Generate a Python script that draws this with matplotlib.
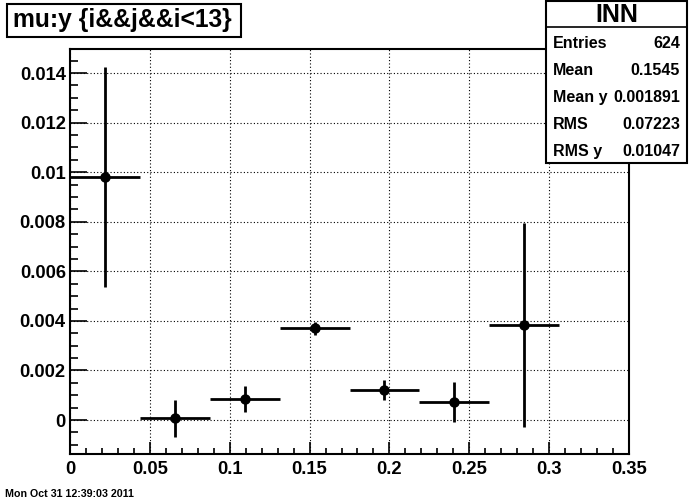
import numpy as np
import matplotlib
matplotlib.use("Agg")
import matplotlib.pyplot as plt
from matplotlib.patches import Rectangle
from matplotlib.ticker import MultipleLocator, FuncFormatter

# profile histogram: 8 bins in mu, last bin empty
nbins = 8
xlo, xhi = 0.0, 0.35
y_mean = [0.0098, 0.00007, 0.00085, 0.0037, 0.00121, 0.00073, 0.00383]
y_err = [0.00443, 0.00075, 0.00052, 0.00025, 0.0004, 0.0008, 0.0041]

title = "mu:y {i&&j&&i<13}"
stats_name = "INN"
stats_labels = ["Entries", "Mean", "Mean y", "RMS", "RMS y"]
stats_values = ["624", "0.1545", "0.001891", "0.07223", "0.01047"]
date_str = "Mon Oct 31 12:39:03 2011"

W, H = 698, 503
bold = ["Liberation Sans", "DejaVu Sans"]


def fx(px):
    return px / W


def fy(py):
    return 1 - py / H


edges = np.linspace(xlo, xhi, nbins + 1)
centres = 0.5 * (edges[:-1] + edges[1:])
halfw = 0.5 * (edges[1] - edges[0])
n = len(y_mean)

fig = plt.figure(figsize=(W / 100, H / 100), dpi=100)
ax = fig.add_axes([fx(70), fy(454), fx(629) - fx(70), fy(49) - fy(454)])

ax.errorbar(centres[:n], y_mean, xerr=halfw, yerr=y_err, fmt="o", color="black",
            ms=6.5, elinewidth=2, capsize=0, zorder=3)

ax.set_xlim(xlo, xhi)
ax.set_ylim(-0.00137, 0.01497)

ax.xaxis.set_major_locator(MultipleLocator(0.05))
ax.xaxis.set_minor_locator(MultipleLocator(0.01))
ax.yaxis.set_major_locator(MultipleLocator(0.002))
ax.yaxis.set_minor_locator(MultipleLocator(0.0005))
fmt = FuncFormatter(lambda v, p: "%g" % round(v, 6))
ax.xaxis.set_major_formatter(fmt)
ax.yaxis.set_major_formatter(fmt)

ax.tick_params(axis="y", which="major", direction="in", length=12, width=1.2, pad=3)
ax.tick_params(axis="y", which="minor", direction="in", length=6, width=1.2)
ax.tick_params(axis="x", which="major", direction="in", length=8.5, width=1.2, pad=5)
ax.tick_params(axis="x", which="minor", direction="in", length=4.3, width=1.2)

for lab in ax.get_yticklabels() + ax.get_xticklabels():
    lab.set_fontfamily(bold)
    lab.set_fontweight("bold")
    lab.set_fontsize(13.2)

ax.grid(True, which="major", color="black", linestyle=(0, (1, 2)), linewidth=0.8)
for sp in ax.spines.values():
    sp.set_linewidth(1.5)

# title box
fig.add_artist(Rectangle((fx(7), fy(37)), fx(241) - fx(7), fy(4) - fy(37),
                         transform=fig.transFigure, facecolor="white",
                         edgecolor="black", lw=1.5, zorder=5))
fig.text(fx(122), fy(20.5), title, ha="center", va="center", fontsize=17.7,
         fontweight="bold", family=bold, zorder=6)

# stats box
fig.add_artist(Rectangle((fx(546), fy(163)), fx(687) - fx(546), fy(1) - fy(163),
                         transform=fig.transFigure, facecolor="white",
                         edgecolor="black", lw=1.5, zorder=5))
fig.add_artist(plt.Line2D([fx(546), fx(687)], [fy(27), fy(27)],
                          transform=fig.transFigure, color="black", lw=1.2, zorder=6))
fig.text(fx(616.5), fy(14.5), stats_name, ha="center", va="center", fontsize=18,
         fontweight="bold", family=bold, zorder=6)
for i, (lab, val) in enumerate(zip(stats_labels, stats_values)):
    yy = fy(48 + 27 * i)
    fig.text(fx(553), yy, lab, ha="left", va="baseline", fontsize=11.5,
             fontweight="bold", family=bold, zorder=6)
    fig.text(fx(680), yy, val, ha="right", va="baseline", fontsize=11.5,
             fontweight="bold", family=bold, zorder=6)

fig.text(fx(5), fy(494), date_str, ha="left", va="center", fontsize=7.7,
         fontweight="bold", family=bold)

fig.savefig("out.png", dpi=100)
